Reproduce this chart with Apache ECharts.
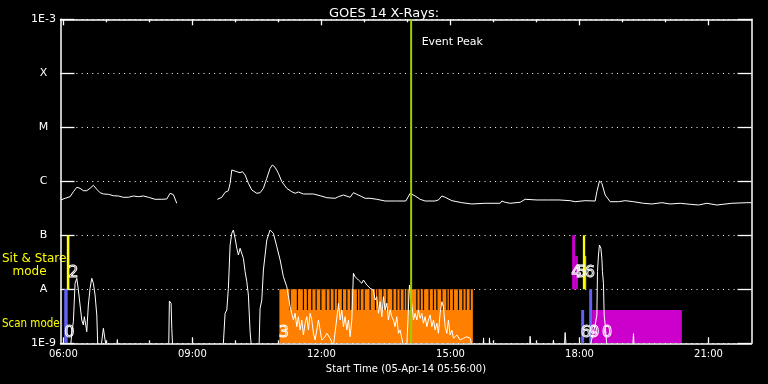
<!DOCTYPE html>
<html><head><meta charset="utf-8">
<script src="https://cdn.jsdelivr.net/npm/echarts@6/dist/echarts.min.js"></script>
<style>html,body{margin:0;padding:0;background:#000}#c{width:768px;height:384px}</style>
</head><body><div id="c"></div><script>
// ---------- data ----------
const chartTitle = 'GOES 14 X-Rays:';
const xAxisTitle = 'Start Time (05-Apr-14 05:56:00)';
const timeStart = 5 + 56 / 60;   // hours
const timeEnd = 22;
const majorTicks = [6, 9, 12, 15, 18, 21];
const majorTickLabels = ['06:00', '09:00', '12:00', '15:00', '18:00', '21:00'];
const minorTicks = [7, 8, 10, 11, 13, 14, 16, 17, 19, 20];
const yTicks = [-9, -8, -7, -6, -5, -4, -3];            // log10 flux (W/m^2)
const yTickLabels = ['1E-9', 'A', 'B', 'C', 'M', 'X', '1E-3'];

// 1-8 A channel : [hour, log10 flux]
const longChannel = [[5.94,-6.346],[6.04,-6.315],[6.156,-6.285],[6.233,-6.193],[6.312,-6.111],[6.388,-6.130],[6.465,-6.174],[6.544,-6.174],[6.621,-6.130],[6.698,-6.074],[6.777,-6.148],[6.853,-6.211],[6.930,-6.235],[7.047,-6.241],[7.163,-6.267],[7.279,-6.272],[7.395,-6.296],[7.512,-6.296],[7.628,-6.272],[7.744,-6.285],[7.860,-6.272],[7.977,-6.296],[8.133,-6.333],[8.288,-6.333],[8.405,-6.328],[8.481,-6.222],[8.558,-6.248],[8.598,-6.285],[8.637,-6.407],[9.1,'-'],[9.581,-6.333],[9.684,-6.296],[9.760,-6.204],[9.837,-6.174],[9.877,-6.037],[9.916,-5.791],[9.953,-5.778],[10.033,-5.822],[10.109,-5.841],[10.163,-5.822],[10.226,-5.883],[10.302,-6.037],[10.381,-6.161],[10.498,-6.222],[10.574,-6.211],[10.651,-6.130],[10.730,-5.944],[10.807,-5.759],[10.860,-5.698],[10.923,-5.741],[11.000,-5.852],[11.079,-6.007],[11.195,-6.130],[11.312,-6.193],[11.388,-6.222],[11.465,-6.198],[11.581,-6.235],[11.814,-6.235],[11.970,-6.267],[12.126,-6.304],[12.319,-6.315],[12.395,-6.285],[12.512,-6.254],[12.667,-6.296],[12.744,-6.211],[12.823,-6.241],[12.940,-6.285],[13.016,-6.315],[13.133,-6.315],[13.288,-6.333],[13.481,-6.365],[13.753,-6.365],[13.963,-6.365],[14.063,-6.222],[14.102,-6.211],[14.179,-6.272],[14.295,-6.333],[14.412,-6.365],[14.644,-6.365],[14.721,-6.346],[14.800,-6.272],[14.877,-6.296],[15.033,-6.359],[15.265,-6.396],[15.498,-6.420],[15.807,-6.407],[16.156,-6.407],[16.195,-6.365],[16.272,-6.389],[16.388,-6.407],[16.621,-6.389],[16.737,-6.333],[17.009,-6.346],[17.047,-6.333],[17.279,-6.346],[17.528,-6.346],[17.551,-6.328],[17.784,-6.359],[17.900,-6.378],[18.133,-6.359],[18.365,-6.365],[18.405,-6.193],[18.465,-5.994],[18.521,-6.037],[18.598,-6.254],[18.714,-6.378],[18.907,-6.378],[19.063,-6.359],[19.256,-6.378],[19.488,-6.407],[19.684,-6.420],[19.916,-6.396],[20.109,-6.420],[20.342,-6.407],[20.574,-6.426],[20.767,-6.439],[20.963,-6.407],[21.195,-6.439],[21.544,-6.407],[21.893,-6.396],[22.0,-6.396]];

// 0.5-4 A channel : [hour, log10 flux]
const shortChannel = [[5.94,-9.05],[6.17,-9.05],[6.195,-8.815],[6.233,-8.600],[6.272,-7.889],[6.312,-7.796],[6.349,-8.013],[6.388,-8.291],[6.428,-8.569],[6.465,-8.661],[6.488,-8.507],[6.521,-8.661],[6.544,-8.785],[6.581,-8.291],[6.621,-7.981],[6.660,-7.796],[6.698,-7.889],[6.737,-8.106],[6.777,-8.476],[6.800,-9.05],[6.88,-9.05],[6.930,-8.722],[6.970,-8.939],[6.99,-9.05],[7.24,-9.05],[7.256,-8.93],[7.27,-9.05],[8.45,-9.05],[8.465,-8.217],[8.505,-8.259],[8.521,-8.722],[8.54,-9.05],[9.70,-9.05],[9.721,-8.996],[9.760,-8.444],[9.800,-8.383],[9.837,-7.981],[9.877,-7.180],[9.916,-6.963],[9.953,-6.902],[9.993,-7.056],[10.033,-7.241],[10.070,-7.365],[10.109,-7.241],[10.149,-7.272],[10.186,-7.426],[10.226,-7.674],[10.265,-7.859],[10.302,-8.106],[10.342,-8.785],[10.37,-9.05],[10.55,-9.05],[10.574,-8.352],[10.614,-8.198],[10.651,-7.643],[10.730,-7.087],[10.807,-6.902],[10.847,-6.870],[10.884,-6.963],[10.963,-7.211],[11.040,-7.457],[11.116,-7.767],[11.195,-7.952],[11.272,-8.322],[11.349,-8.569],[11.388,-8.444],[11.428,-8.693],[11.465,-8.507],[11.505,-8.754],[11.544,-8.569],[11.581,-8.846],[11.621,-8.630],[11.660,-8.507],[11.698,-8.754],[11.737,-8.444],[11.777,-8.569],[11.814,-8.815],[11.853,-8.939],[11.893,-8.754],[11.930,-8.569],[11.970,-8.754],[12.009,-8.939],[12.086,-8.878],[12.126,-8.815],[12.202,-8.907],[12.279,-9.05],[12.372,-8.444],[12.395,-8.259],[12.435,-8.569],[12.474,-8.383],[12.512,-8.693],[12.551,-8.507],[12.591,-8.754],[12.628,-8.569],[12.667,-8.878],[12.707,-8.569],[12.744,-7.704],[12.784,-7.767],[12.823,-7.735],[12.860,-7.828],[12.900,-7.796],[12.940,-7.889],[12.977,-7.828],[13.056,-7.920],[13.133,-7.981],[13.209,-8.013],[13.249,-8.198],[13.288,-8.137],[13.326,-8.444],[13.365,-8.230],[13.405,-8.507],[13.442,-8.137],[13.481,-8.383],[13.521,-8.259],[13.558,-8.569],[13.598,-8.383],[13.637,-8.507],[13.674,-8.569],[13.714,-8.693],[13.753,-8.507],[13.791,-8.815],[13.830,-8.754],[13.870,-8.907],[13.907,-9.05],[13.986,-9.05],[14.047,-7.920],[14.079,-7.952],[14.109,-8.322],[14.140,-8.569],[14.179,-8.444],[14.219,-8.569],[14.256,-8.383],[14.295,-8.537],[14.335,-8.444],[14.372,-8.630],[14.412,-8.507],[14.451,-8.693],[14.488,-8.569],[14.528,-8.476],[14.567,-8.693],[14.605,-8.569],[14.644,-8.754],[14.684,-8.630],[14.721,-8.815],[14.760,-8.444],[14.800,-8.230],[14.837,-8.322],[14.877,-8.693],[14.916,-8.815],[14.953,-8.569],[14.993,-8.846],[15.033,-8.754],[15.070,-8.907],[15.149,-8.846],[15.226,-8.939],[15.302,-8.907],[15.381,-8.878],[15.458,-8.907],[15.498,-9.05],[15.76,-9.05],[15.77,-8.9],[15.78,-9.05],[15.90,-9.05],[15.907,-8.9],[15.92,-9.05],[16.84,-9.05],[16.853,-8.87],[16.87,-9.05],[17.38,-9.05],[17.395,-8.94],[17.41,-9.05],[17.65,-9.05],[17.667,-8.80],[17.69,-9.05],[18.249,-9.05],[18.365,-8.661],[18.405,-8.476],[18.419,-7.674],[18.442,-7.365],[18.465,-7.180],[18.498,-7.241],[18.521,-7.426],[18.535,-7.674],[18.558,-7.889],[18.574,-8.476],[18.598,-8.661],[18.637,-9.05],[19.24,-9.05],[19.256,-8.82],[19.27,-9.05],[22.0,-9.05]];

// observing-mode intervals (hours, log10 band limits, instrument kind)
const barStart = [6.02, 6.08, 11.023, 11.023, 17.830, 17.900, 18.040, 18.079, 18.133, 18.226, 18.295];
const barEnd   = [6.10, 6.14, 15.521, 15.521, 17.900, 17.963, 18.109, 18.133, 18.156, 18.295, 20.381];
const barLow   = [-9, -8, -9, -8.383, -8, -8, -9, -8, -8, -9, -9];
const barHigh  = [-8, -7, -8.383, -8, -7, -7.383, -8.383, -7, -7.383, -8, -8.383];
const barKind  = ['blue', 'yellow', 'orange', 'orange', 'magenta', 'magenta', 'blue', 'yellow', 'yellow', 'blue', 'magenta'];
// missing scan frames inside the orange interval (hours)
const scanGaps = [11.273,11.442,11.582,11.675,11.777,11.877,11.987,12.110,12.203,12.296,12.373,12.489,12.591,12.684,12.838,12.900,12.993,13.133,13.256,13.312,13.428,13.521,13.661,13.754,13.831,13.924,13.987,14.047,14.219,14.296,14.373,14.505,14.605,14.684,14.800,14.917,14.977,15.070,15.187,15.289,15.366,15.459];
// observation number labels
const labelTime  = [6.137, 6.233, 11.128, 17.930, 18.044, 18.242, 18.151, 18.347, 18.644];
const labelLevel = [-8.80, -7.689, -8.80, -7.689, -7.689, -7.689, -8.80, -8.80, -8.80];
const labelText  = ['0', '2', '3', '4', '5', '6', '6', '9', '0'];
const eventPeakTime = 14.086;
const eventPeakText = 'Event Peak';
const sitStareText = ['Sit & Stare', 'mode'];
const scanText = 'Scan mode';

// ---------- styles ----------
const kindColor = { blue: '#6262f4', yellow: '#ffff00', orange: '#ff8000', magenta: '#cc00cc' };
const FONT = 'DejaVu Sans';
const white = '#ffffff';

const chart = echarts.init(document.getElementById('c'), null, { renderer: 'canvas' });

const xBase = {
  type: 'value', min: timeStart, max: timeEnd, gridIndex: 0,
  splitLine: { show: false }
};
const option = {
  backgroundColor: '#000',
  animation: false,
  title: { text: chartTitle, left: 'center', top: 2,
    textStyle: { color: white, fontSize: 13, fontWeight: 'normal', fontFamily: FONT } },
  grid: { left: 60.5, right: 16.5, top: 19.3, bottom: 40.7, containLabel: false },
  xAxis: [
    Object.assign({}, xBase, { position: 'bottom',
      axisLine: { lineStyle: { color: white, width: 1.5 } },
      axisTick: { inside: true, length: 6, customValues: majorTicks, lineStyle: { color: white, width: 1.3 } },
      axisLabel: { customValues: majorTicks, color: white, fontSize: 10, fontFamily: FONT, margin: 6,
        formatter: v => majorTickLabels[majorTicks.indexOf(Math.round(v))] || '' },
      name: xAxisTitle, nameLocation: 'middle', nameGap: 25,
      nameTextStyle: { color: white, fontSize: 10, fontFamily: FONT, verticalAlign: 'middle' } }),
    Object.assign({}, xBase, { position: 'top',
      axisLine: { lineStyle: { color: white, width: 1.5 } },
      axisTick: { inside: true, length: 6, customValues: majorTicks, lineStyle: { color: white, width: 1.3 } },
      axisLabel: { show: false } }),
    Object.assign({}, xBase, { position: 'bottom',
      axisLine: { show: false },
      axisTick: { inside: true, length: 3, customValues: minorTicks, lineStyle: { color: white, width: 1.3 } },
      axisLabel: { show: false } }),
    Object.assign({}, xBase, { position: 'top',
      axisLine: { show: false },
      axisTick: { inside: true, length: 3, customValues: minorTicks, lineStyle: { color: white, width: 1.3 } },
      axisLabel: { show: false } })
  ],
  yAxis: [
    { type: 'value', min: -9, max: -3, interval: 1, position: 'left',
      axisLine: { lineStyle: { color: white, width: 1.5 } },
      axisTick: { inside: true, length: 14, lineStyle: { color: white, width: 1.3 } },
      axisLabel: { color: white, fontSize: 11, fontFamily: FONT, align: 'center', margin: 17,
        formatter: v => yTickLabels[yTicks.indexOf(Math.round(v))] || '' },
      splitLine: { show: true, lineStyle: { color: white, width: 1, type: [1, 4.3] } } },
    { type: 'value', min: -9, max: -3, interval: 1, position: 'right',
      axisLine: { lineStyle: { color: white, width: 1.5 } },
      axisTick: { inside: true, length: 14, lineStyle: { color: white, width: 1.3 } },
      axisLabel: { show: false }, splitLine: { show: false } }
  ],
  graphic: [
    { type: 'text', x: 2, y: 259, style: { text: sitStareText[0], fill: '#ffff00', font: '12px ' + FONT, verticalAlign: 'middle' } },
    { type: 'text', x: 12.5, y: 272, style: { text: sitStareText[1], fill: '#ffff00', font: '12px ' + FONT, verticalAlign: 'middle' } },
    { type: 'text', x: 2, y: 324, scaleX: 0.86, style: { text: scanText, fill: '#ffff00', font: '12px ' + FONT, verticalAlign: 'middle' } }
  ],
  series: [
    { type: 'custom', name: 'modes', z: 1, clip: true, xAxisIndex: 0, yAxisIndex: 0,
      encode: { x: [0, 1], y: [2, 3] },
      data: barStart.map((s, i) => [s, barEnd[i], barLow[i], barHigh[i]]),
      renderItem: (params, api) => {
        const p0 = api.coord([api.value(0), api.value(3)]);
        const p1 = api.coord([api.value(1), api.value(2)]);
        return { type: 'rect', shape: { x: p0[0], y: p0[1], width: p1[0] - p0[0], height: p1[1] - p0[1] },
          style: { fill: kindColor[barKind[params.dataIndex]] } };
      } },
    { type: 'custom', name: 'gaps', z: 2, clip: true,
      encode: { x: 0 },
      data: scanGaps.map(t => [t]),
      renderItem: (params, api) => {
        const top = api.coord([api.value(0), -8]);
        const bot = api.coord([api.value(0), -8.383]);
        return { type: 'rect', shape: { x: top[0] - 0.6, y: top[1], width: 1.2, height: bot[1] - top[1] },
          style: { fill: '#000' } };
      } },
    { type: 'line', name: '0.5-4.0 A', z: 3, data: shortChannel, showSymbol: false, clip: true,
      lineStyle: { color: white, width: 1 }, connectNulls: false },
    { type: 'line', name: '1.0-8.0 A', z: 3, data: longChannel, showSymbol: false, clip: true,
      lineStyle: { color: white, width: 1 }, connectNulls: false },
    { type: 'custom', name: 'labels', z: 4, clip: false,
      encode: { x: 0, y: 1 },
      data: labelTime.map((t, i) => [t, labelLevel[i]]),
      renderItem: (params, api) => {
        const p = api.coord([api.value(0), api.value(1)]);
        return { type: 'text', x: p[0], y: p[1],
          style: { text: labelText[params.dataIndex], fill: 'rgba(0,0,0,0)', stroke: white, lineWidth: 1,
            font: '16px ' + FONT, align: 'center', verticalAlign: 'middle' } };
      } },
    { type: 'custom', name: 'event', z: 5, clip: false,
      encode: { x: 0 },
      data: [[eventPeakTime]],
      renderItem: (params, api) => {
        const a = api.coord([api.value(0), -3]);
        const b = api.coord([api.value(0), -9]);
        const t = api.coord([api.value(0), -3.43]);
        return { type: 'group', children: [
          { type: 'line', shape: { x1: a[0], y1: a[1], x2: b[0], y2: b[1] }, style: { stroke: '#9ccf00', lineWidth: 2 } },
          { type: 'text', x: t[0] + 10.5, y: t[1], style: { text: eventPeakText, fill: white, font: '11px ' + FONT, align: 'left', verticalAlign: 'middle' } }
        ] };
      } }
  ]
};
chart.setOption(option);
</script></body></html>
